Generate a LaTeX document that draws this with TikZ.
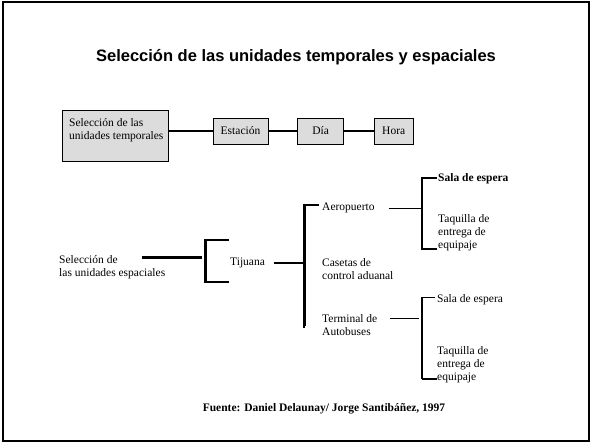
\documentclass[tikz,border=0pt]{standalone}
\usepackage{fontspec}
\setmainfont{Liberation Serif}
\newfontfamily\titulofont{Liberation Sans}
\usetikzlibrary{positioning}
\definecolor{grisbloque}{RGB}{220,220,220}

\begin{document}
\begin{tikzpicture}[
    x=1pt, y=-1pt,
    caja/.style={draw, fill=grisbloque, line width=0.6pt, minimum height=26pt, inner sep=0pt, font=\fontsize{11.5}{13}\selectfont},
    texto/.style={align=left, inner sep=0pt, anchor=west, font=\fontsize{11.5}{13}\selectfont},
    grueso/.style={line width=2.2pt},
    medio/.style={line width=1.2pt},
    fino/.style={line width=0.8pt}
]
\useasboundingbox (0,0) rectangle (592,444);

% Marco
\draw[line width=2pt] (3,2.5) rectangle (589,441);

% Titulo
\node[font=\titulofont\fontsize{16.5}{19}\selectfont\bfseries] (titulo) at (296,57)
{Selección de las unidades temporales y espaciales};

% Unidades temporales
\node[caja, minimum width=106pt, minimum height=51pt] (tempo) at (115,135.5) {};
\node[texto] (tempotxt) at (69,130) {Selección de las\\unidades temporales};
\node[caja, minimum width=55pt] (estacion) at (240.5,131) {Estación};
\node[caja, minimum width=46pt, right=29pt of estacion] (dia) {Día};
\node[caja, minimum width=39pt, right=30pt of dia] (hora) {Hora};

\draw[grueso] (tempo.east |- estacion.west) -- (estacion.west);
\draw[grueso] (estacion) -- (dia);
\draw[grueso] (dia) -- (hora);

% Unidades espaciales
\node[texto] (espacial) at (59,267) {Selección de\\las unidades espaciales};
\coordinate (llaveT) at (205.5,240);
\coordinate (iniEsp) at (142,257.5);
\draw[grueso] (iniEsp) -- ([xshift=-3.5pt]iniEsp -| llaveT);
\draw[grueso] ([xshift=23.5pt]llaveT) -- (llaveT) -- ++(0,42) -- ++(23.5,0);

% Tijuana
\node[texto] (tijuana) at (230,263) {Tijuana};
\coordinate (llaveM) at (304.5,205);
\draw[grueso] ([xshift=9pt]tijuana.east) -- (tijuana.east -| llaveM);
\draw[grueso] ([xshift=14.5pt]llaveM) -- (llaveM) -- ++(0,123);
\draw[double, line width=0.6pt, double distance=1.2pt] ([yshift=-122pt]llaveM) -- ++(13.5,0);

% Segundo nivel
\node[texto] (aero) at (322,208) {Aeropuerto};
\node[texto] (casetas) at (322,269) {Casetas de\\control aduanal};
\node[texto] (terminal) at (322,325) {Terminal de\\Autobuses};

% Aeropuerto
\coordinate (llaveA) at (422,178);
\draw[fino] ([xshift=14pt]aero.east) -- (aero.east -| llaveA);
\draw[grueso] ([xshift=15pt]llaveA) -- (llaveA) -- ++(0,71) -- ++(15,0);
\node[texto, font=\fontsize{11.5}{13}\selectfont\bfseries] (sala1) at (438,179) {Sala de espera};
\node[texto] (taq1) at (438,233) {Taquilla de\\entrega de\\equipaje};

% Terminal de Autobuses
\coordinate (llaveB) at (422,297);
\coordinate (iniTer) at (390,318);
\draw[fino] (iniTer) -- ([xshift=-3pt]iniTer -| llaveB);
\draw[fino] ([xshift=13pt]llaveB) -- (llaveB);
\draw[medio] (llaveB) -- ++(0,82);
\draw[line width=2pt] ([yshift=-82pt]llaveB) -- ++(15,0);
\node[texto] (sala2) at (437,300) {Sala de espera};
\node[texto] (taq2) at (437,365) {Taquilla de\\entrega de\\equipaje};

% Fuente
\node[font=\fontsize{11.5}{13}\selectfont\bfseries] (fuente) at (324,409)
{Fuente: Daniel Delaunay/ Jorge Santibáñez, 1997};

\end{tikzpicture}
\end{document}
